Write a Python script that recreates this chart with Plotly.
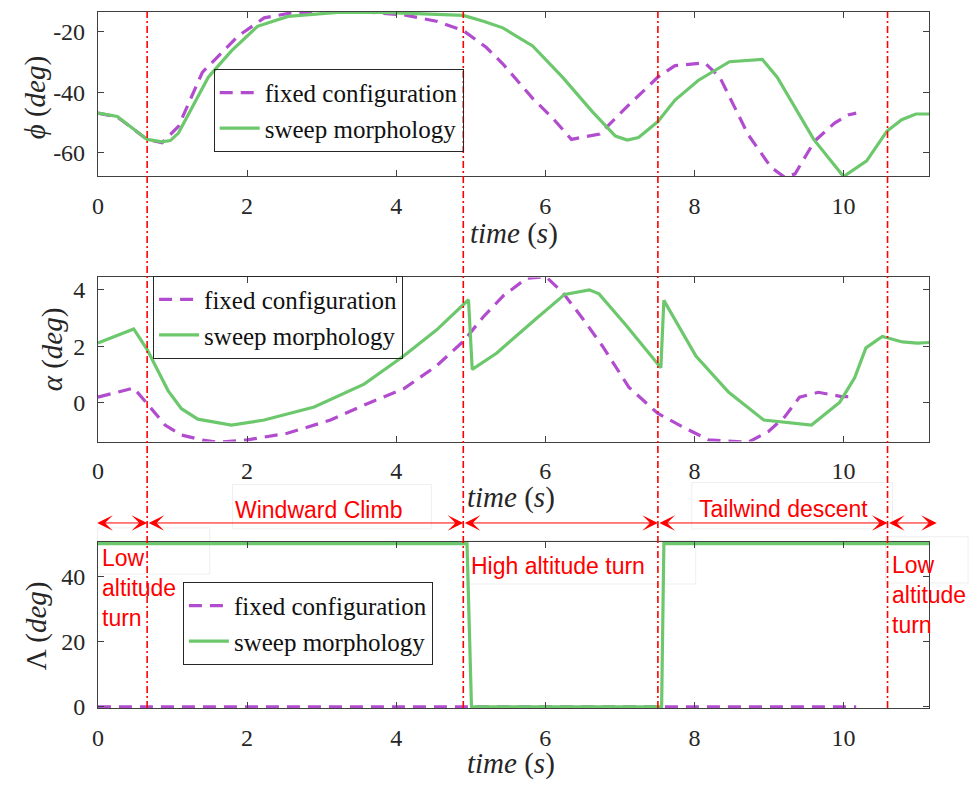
import plotly.graph_objects as go

# ---------------- data ----------------
# roll angle phi (deg)
t_phi_fixed = [0, 0.26, 0.66, 0.86, 1.08, 1.40, 1.88, 2.23, 2.63, 3.21, 3.66, 4.10, 4.54, 4.90,
               5.21, 5.43, 5.83, 6.10, 6.35, 6.73, 7.12, 7.51, 7.74, 8.14, 8.34, 8.72, 9.03,
               9.21, 9.35, 9.61, 9.88, 10.06, 10.17]
phi_fixed = [-46.9, -48.2, -55.6, -56.7, -51.3, -33.4, -21.4, -15.4, -13.6, -13.5, -13.6, -14.4,
             -16.5, -19.6, -25.2, -30.6, -42.0, -48.6, -55.6, -53.8, -44.2, -35.0, -31.2, -30.3,
             -35.0, -54.0, -64.9, -68.1, -67.0, -56.2, -50.2, -47.5, -46.9]

t_phi_sweep = [0, 0.26, 0.66, 0.86, 0.97, 1.08, 1.48, 1.79, 2.14, 2.55, 3.21, 3.66, 4.10, 4.90,
               5.17, 5.43, 5.83, 6.23, 6.63, 6.94, 7.10, 7.25, 7.51, 7.74, 8.05, 8.47, 8.91,
               9.11, 9.60, 10.00, 10.31, 10.58, 10.78, 10.97, 11.15]
phi_sweep = [-46.9, -48.0, -55.6, -56.4, -56.0, -53.5, -35.0, -26.3, -18.2, -14.9, -13.6, -13.5,
             -13.8, -14.6, -16.5, -18.7, -24.7, -35.0, -46.4, -54.5, -55.8, -55.0, -49.7, -42.6,
             -36.1, -29.9, -29.1, -35.0, -55.6, -67.9, -62.7, -52.9, -49.1, -47.2, -47.2]

# angle of attack alpha (deg)
t_alpha_fixed = [0, 0.48, 0.66, 0.90, 1.12, 1.40, 1.61, 2.01, 2.54, 3.12, 3.66, 4.10, 4.54, 4.90,
                 5.17, 5.44, 5.75, 6.01, 6.23, 6.50, 6.77, 7.12, 7.51, 7.84, 8.19, 8.72, 8.99,
                 9.21, 9.41, 9.66, 9.97, 10.17]
alpha_fixed = [0.20, 0.52, -0.03, -0.79, -1.14, -1.32, -1.40, -1.31, -1.08, -0.61, 0.02, 0.49,
               1.30, 2.17, 3.04, 3.79, 4.40, 4.45, 3.91, 2.98, 1.99, 0.55, -0.38, -0.85, -1.31,
               -1.40, -1.02, -0.50, 0.20, 0.37, 0.22, 0.22]

t_alpha_sweep = [0, 0.48, 0.66, 0.94, 1.12, 1.34, 1.79, 2.23, 2.90, 3.57, 4.10, 4.54, 4.97, 5.02,
                 5.35, 5.61, 5.88, 6.26, 6.59, 6.72, 7.08, 7.55, 7.59, 8.02, 8.46, 8.93, 9.57,
                 9.95, 10.15, 10.30, 10.52, 10.79, 10.99, 11.15]
alpha_sweep = [2.11, 2.61, 1.88, 0.43, -0.21, -0.58, -0.79, -0.61, -0.15, 0.66, 1.65, 2.57, 3.64,
               1.18, 1.76, 2.34, 2.98, 3.83, 3.99, 3.85, 2.75, 1.24, 3.62, 1.65, 0.37, -0.61,
               -0.79, 0.02, 0.89, 1.94, 2.34, 2.15, 2.11, 2.13]

# sweep angle Lambda (deg)
t_sweep_fixed = [0, 10.17]
sweep_fixed = [0, 0]
t_sweep_sweep = [0, 4.95, 5.01, 7.56, 7.59, 11.15]
sweep_sweep = [50, 50, 0, 0, 50, 50]

# flight phase boundaries (s) and arrow extents
phase_bounds = [0.66, 4.90, 7.51, 10.59]
arrow_start, arrow_end = -0.03, 11.25

names = ["fixed configuration", "sweep morphology"]
x_ticks = [0, 2, 4, 6, 8, 10]
y_ticks = [[-60, -40, -20], [0, 2, 4], [0, 20, 40]]
y_tick_text = [["-60", "-40", "-20"], ["0", "2", "4"], ["0", "20", "40"]]

# ---------------- styling ----------------
W, H = 978, 792
PURPLE = "#b24ccf"
GREEN = "#6dc86d"
RED = "#ff0000"
SERIF = "Liberation Serif"
SANS = "Liberation Sans"
AX = "#404040"


def px(xp):
    return xp / W


def py(yp):
    return 1 - yp / H


x_dom = [px(92.5), px(929)]
y_doms = [[py(179), py(11.7)], [py(448.3), py(281.7)], [py(719), py(550)]]

fig = go.Figure()

panels = [
    (t_phi_fixed, phi_fixed, t_phi_sweep, phi_sweep),
    (t_alpha_fixed, alpha_fixed, t_alpha_sweep, alpha_sweep),
    (t_sweep_fixed, sweep_fixed, t_sweep_sweep, sweep_sweep),
]
legend_ids = ["legend", "legend2", "legend3"]

for i, (tf, vf, ts, vs) in enumerate(panels):
    sfx = "" if i == 0 else str(i + 1)
    fig.add_trace(go.Scatter(x=tf, y=vf, mode="lines", name=names[0],
                             line=dict(color=PURPLE, width=3.2, dash="13px,8px"),
                             xaxis="x" + sfx, yaxis="y" + sfx, legend=legend_ids[i]))
    fig.add_trace(go.Scatter(x=ts, y=vs, mode="lines", name=names[1],
                             line=dict(color=GREEN, width=3.2),
                             xaxis="x" + sfx, yaxis="y" + sfx, legend=legend_ids[i]))

axis_common = dict(showline=True, linecolor=AX, linewidth=1, mirror="ticks",
                   ticks="inside", ticklen=6, tickcolor=AX, showgrid=False, zeroline=False,
                   tickfont=dict(family=SERIF, size=24, color="#262626"))

y_ranges = [[-67.8, -13.3], [-1.37, 4.43], [-0.4, 50.6]]

layout = dict(
    width=W, height=H, margin=dict(l=0, r=0, t=0, b=0),
    paper_bgcolor="white", plot_bgcolor="white", showlegend=True,
)
for i in range(3):
    sfx = "" if i == 0 else str(i + 1)
    layout["xaxis" + sfx] = dict(axis_common, domain=x_dom, range=[0, 11.15],
                                 tickvals=x_ticks, anchor="y" + sfx,
                                 ticklabelstandoff=8)
    layout["yaxis" + sfx] = dict(axis_common, domain=y_doms[i], range=y_ranges[i],
                                 tickvals=y_ticks[i], ticktext=y_tick_text[i],
                                 anchor="x" + sfx, ticklabelstandoff=7)

# legend boxes: left edge and vertical centre (pixels)
legend_pos = [(209, 112), (148, 322), (178, 633)]
for lid, (lx, ly) in zip(legend_ids, legend_pos):
    layout[lid] = dict(x=px(lx), y=py(ly), xanchor="left", yanchor="middle",
                       bgcolor="rgba(255,255,255,0)", bordercolor="#262626", borderwidth=1,
                       font=dict(family=SERIF, size=25, color="#111111"),
                       tracegroupgap=0, itemwidth=40)

fig.update_layout(**layout)

annotations = []
# axis titles
xt = "<i>time</i> (<i>s</i>)"
for (cx, cy) in [(511, 237), (508, 505), (508, 775)]:
    annotations.append(dict(text=xt, x=px(cx), y=py(cy), xref="paper", yref="paper",
                            showarrow=False, xanchor="center", yanchor="middle",
                            font=dict(family=SERIF, size=29, color="#262626")))
ytitles = [("<i>ϕ</i> (<i>deg</i>)", 30, 99),
           ("<i>α</i> (<i>deg</i>)", 47, 355),
           ("Λ (<i>deg</i>)", 31, 635)]
for (txt, cx, cy) in ytitles:
    annotations.append(dict(text=txt, x=px(cx), y=py(cy), xref="paper", yref="paper",
                            showarrow=False, textangle=-90, xanchor="center",
                            yanchor="middle",
                            font=dict(family=SERIF, size=29, color="#262626")))

# double-headed phase arrows
edges = [arrow_start] + phase_bounds + [arrow_end]
arrow_y = py(531)
for a, b in zip(edges[:-1], edges[1:]):
    annotations.append(dict(x=b, y=arrow_y, ax=a, ay=0, xref="x3", yref="paper",
                            axref="x3", ayref="pixel", text="", showarrow=True,
                            arrowside="end+start", arrowhead=3, startarrowhead=3,
                            arrowsize=2.6, startarrowsize=2.6, arrowwidth=1,
                            arrowcolor=RED, standoff=0, startstandoff=0))

# phase labels (positions in pixels: left/centre x, vertical centre y)
lab_font = dict(family=SANS, size=23, color=RED)
labels = [
    ("Windward Climb", 314, 518, "center"),
    ("Tailwind descent", 782, 517, "center"),
    ("High altitude turn", 466, 575, "left"),
    ("Low<br>altitude<br>turn", 95, 597, "left"),
    ("Low<br>altitude<br>turn", 889, 604, "left"),
]
for txt, xp_, yp_, anc in labels:
    annotations.append(dict(text=txt, x=px(xp_), y=py(yp_), xref="paper", yref="paper",
                            showarrow=False, xanchor=anc, yanchor="middle", align="left",
                            font=lab_font))
fig.update_layout(annotations=annotations)

# phase boundary lines spanning all three panels
shapes = []
for b in phase_bounds:
    shapes.append(dict(type="line", xref="x", yref="paper", x0=b, x1=b,
                       y0=py(719), y1=py(11.7),
                       line=dict(color=RED, width=1.6, dash="7px,3px,2px,3px"),
                       layer="above"))
# faint frames around the phase labels
for (x0, y0, x1, y1) in [(228, 492, 428, 537), (690, 490, 892, 537), (460, 549, 694, 593),
                         (92, 536, 205, 583), (885, 545, 968, 592)]:
    shapes.append(dict(type="rect", xref="paper", yref="paper", x0=px(x0), x1=px(x1),
                       y0=py(y1), y1=py(y0), line=dict(color="#efefef", width=1),
                       layer="below"))
fig.update_layout(shapes=shapes)

fig.write_html("out.html")
